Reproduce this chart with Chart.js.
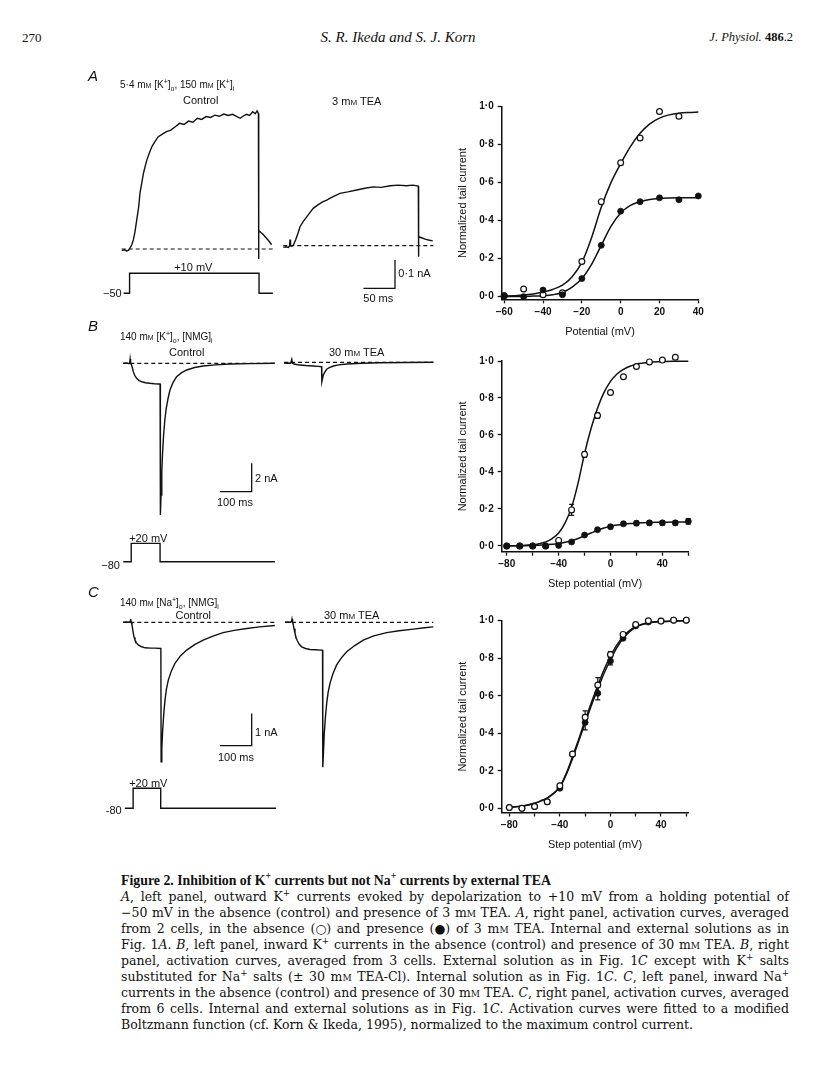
<!DOCTYPE html>
<html>
<head>
<meta charset="utf-8">
<title>Figure 2</title>
<script src="https://cdn.jsdelivr.net/npm/chart.js@4.4.1/dist/chart.umd.min.js"></script>
<style>
  body { margin: 0; background: #fff; }
  #page { position: relative; width: 816px; height: 1088px; overflow: hidden; color: #111;
          font-family: "Liberation Sans", Arial, sans-serif; }
  #page canvas { position: absolute; }
  .t { position: absolute; white-space: nowrap; line-height: 1; }
  .c { transform: translate(-50%, -50%); }
  .l { transform: translate(0, -50%); }
  .r { transform: translate(-100%, -50%); }
  .sc { font-variant: small-caps; }
  .lab { font-size: 11px; }
  .cond { font-size: 10px; }
  .panel { font-size: 15px; font-style: italic; }
  .serif { font-family: "Liberation Serif", "DejaVu Serif", serif; }
  .cap { font-family: "DejaVu Serif", serif; font-size: 12.5px; }
  sub, sup { font-size: 70%; line-height: 0; }
</style>
</head>
<body>
<div id="page">
  <!-- running head -->
  <div class="t l serif" style="left:22px;top:37px;font-size:13px">270</div>
  <div class="t c serif" style="left:398px;top:37px;font-size:15px;font-style:italic">S. R. Ikeda and S. J. Korn</div>
  <div class="t r serif" style="left:793px;top:37px;font-size:12.5px"><i>J. Physiol.</i> <b>486</b>.2</div>

  <canvas id="trA" width="360" height="250" style="left:80px;top:60px"></canvas>
  <canvas id="trB" width="360" height="270" style="left:80px;top:310px"></canvas>
  <canvas id="trC" width="360" height="270" style="left:80px;top:590px"></canvas>
  <canvas id="actA" width="280" height="255" style="left:440px;top:90px"></canvas>
  <canvas id="actB" width="280" height="250" style="left:440px;top:345px"></canvas>
  <canvas id="actC" width="280" height="260" style="left:440px;top:600px"></canvas>

  <!-- panel A labels -->
  <div class="t l panel" style="left:88px;top:75px">A</div>
  <div class="t l cond" style="left:120px;top:85px">5·4 m<span class="sc">m</span> [K<sup>+</sup>]<sub>o</sub>, 150 m<span class="sc">m</span> [K<sup>+</sup>]<sub>i</sub></div>
  <div class="t c lab" style="left:200.7px;top:100px">Control</div>
  <div class="t c lab" style="left:356.7px;top:100.7px">3 m<span class="sc">m</span> TEA</div>
  <div class="t c lab" style="left:193.3px;top:266.7px">+10 mV</div>
  <div class="t r lab" style="left:121.7px;top:293.3px">−50</div>
  <div class="t l lab" style="left:398.3px;top:273.3px">0·1 nA</div>
  <div class="t c lab" style="left:378.3px;top:298.3px">50 ms</div>

  <!-- panel B labels -->
  <div class="t l panel" style="left:88px;top:325px">B</div>
  <div class="t l cond" style="left:120px;top:336.7px">140 m<span class="sc">m</span> [K<sup>+</sup>]<sub>o</sub>, [NMG]<sub>i</sub></div>
  <div class="t c lab" style="left:186.7px;top:351.7px">Control</div>
  <div class="t c lab" style="left:356.7px;top:351.7px">30 m<span class="sc">m</span> TEA</div>
  <div class="t l lab" style="left:255px;top:478.3px">2 nA</div>
  <div class="t c lab" style="left:235px;top:501.7px">100 ms</div>
  <div class="t c lab" style="left:148.3px;top:538.3px">+20 mV</div>
  <div class="t r lab" style="left:120px;top:565px">−80</div>

  <!-- panel C labels -->
  <div class="t l panel" style="left:88px;top:591px">C</div>
  <div class="t l cond" style="left:120px;top:603.3px">140 m<span class="sc">m</span> [Na<sup>+</sup>]<sub>o</sub>, [NMG]<sub>i</sub></div>
  <div class="t c lab" style="left:193.3px;top:615px">Control</div>
  <div class="t c lab" style="left:351.7px;top:615px">30 m<span class="sc">m</span> TEA</div>
  <div class="t l lab" style="left:255px;top:731.7px">1 nA</div>
  <div class="t c lab" style="left:236px;top:756.7px">100 ms</div>
  <div class="t c lab" style="left:148.3px;top:783.3px">+20 mV</div>
  <div class="t r lab" style="left:121.7px;top:810px">-80</div>

  <!-- legend -->
  <div id="capTitle" class="t l serif" style="left:121px;top:881px;font-size:13px;font-weight:bold">Figure 2. Inhibition of K<sup>+</sup> currents but not Na<sup>+</sup> currents by external TEA</div>
  <div class="t l cap j" style="left:121px;top:897px"><i>A</i>, left panel, outward K<sup>+</sup> currents evoked by depolarization to +10 mV from a holding potential of</div>
  <div class="t l cap j" style="left:121px;top:913px">−50 mV in the absence (control) and presence of 3 m<span class="sc">m</span> TEA. <i>A</i>, right panel, activation curves, averaged</div>
  <div class="t l cap j" style="left:121px;top:929px">from 2 cells, in the absence (○) and presence (●) of 3 m<span class="sc">m</span> TEA. Internal and external solutions as in</div>
  <div class="t l cap j" style="left:121px;top:945px">Fig. 1<i>A</i>. <i>B</i>, left panel, inward K<sup>+</sup> currents in the absence (control) and presence of 30 m<span class="sc">m</span> TEA. <i>B</i>, right</div>
  <div class="t l cap j" style="left:121px;top:961px">panel, activation curves, averaged from 3 cells. External solution as in Fig. 1<i>C</i> except with K<sup>+</sup> salts</div>
  <div class="t l cap j" style="left:121px;top:977px">substituted for Na<sup>+</sup> salts (± 30 m<span class="sc">m</span> TEA-Cl). Internal solution as in Fig. 1<i>C</i>. <i>C</i>, left panel, inward Na<sup>+</sup></div>
  <div class="t l cap j" style="left:121px;top:993px">currents in the absence (control) and presence of 30 m<span class="sc">m</span> TEA. <i>C</i>, right panel, activation curves, averaged</div>
  <div class="t l cap j" style="left:121px;top:1009px">from 6 cells. Internal and external solutions as in Fig. 1<i>C</i>. Activation curves were fitted to a modified</div>
  <div id="capLast" class="t l cap" style="left:121px;top:1025px">Boltzmann function (cf. Korn &amp; Ikeda, 1995), normalized to the maximum control current.</div>
</div>

<script>
// ---- A, left: outward K currents (ms, nA) ----
const tCtrlA = [0, 4, 8, 11, 13, 16, 18.5, 21, 24, 27, 29, 32, 34.5, 37, 40, 44, 48, 53, 58, 64, 71, 78, 85, 92, 99, 106, 113, 120, 127, 134, 141, 148, 155, 162, 169, 176, 183, 188, 193, 198, 203, 208, 212, 215, 217, 217.3, 217.7, 221, 225, 229, 233, 238];
const iCtrlA = [-0.006, -0.003, -0.007, -0.004, 0.002, 0.015, 0.032, 0.06, 0.105, 0.15, 0.197, 0.235, 0.267, 0.29, 0.315, 0.34, 0.362, 0.38, 0.397, 0.405, 0.415, 0.42, 0.432, 0.444, 0.44, 0.452, 0.448, 0.462, 0.458, 0.468, 0.465, 0.473, 0.469, 0.477, 0.472, 0.476, 0.468, 0.462, 0.47, 0.476, 0.472, 0.485, 0.478, 0.488, 0.479, -0.035, 0.065, 0.058, 0.05, 0.04, 0.03, 0.015];
const tTeaA = [2.5, 7, 10.5, 12.5, 13.2, 14, 16, 18.5, 22, 26, 29, 34, 39.7, 45, 50, 58, 65, 71.4, 80, 92.5, 105, 119, 132, 145, 158, 172, 185, 198, 208, 216.8, 217.1, 217.5, 222, 227.5, 233, 239.7];
const iTeaA = [-0.006, -0.004, -0.006, 0.0, 0.022, 0.0, -0.002, 0.002, 0.02, 0.045, 0.067, 0.085, 0.102, 0.118, 0.132, 0.145, 0.155, 0.161, 0.172, 0.185, 0.19, 0.197, 0.203, 0.208, 0.206, 0.212, 0.214, 0.212, 0.214, 0.211, -0.039, 0.032, 0.028, 0.023, 0.02, 0.017];
const tStepA = [3, 12.5, 12.5, 218, 218, 240];
const vStepA = [-50, -50, 10, 10, -50, -50];
const baseCtrlA = [0, 240];
const baseTeaA = [2.5, 240.6];

// ---- B, left: inward K currents ----
const tCtrlB = [0, 10, 17, 20, 21.5, 23, 26, 29, 31.5, 36, 42, 50, 58, 70, 84, 98, 112.6, 116, 117, 119, 121.5, 124, 127, 131, 135, 141, 147, 156, 168, 184, 200, 225, 252, 290, 337, 400, 478];
const iCtrlB = [0, 0.02, -0.01, 0, 0.3, 0, -0.12, -0.35, -0.59, -0.85, -1.06, -1.22, -1.3, -1.37, -1.41, -1.44, -1.46, -1.46, -10.7, -9.3, -7.6, -6.3, -5.1, -4.0, -3.25, -2.5, -1.9, -1.4, -0.95, -0.66, -0.47, -0.3, -0.19, -0.11, -0.05, -0.02, 0];
const tTeaB = [-3, 5, 12, 18, 21.5, 23.5, 28.5, 40, 47.4, 65, 89.4, 105, 115.5, 116.3, 118.5, 121, 126, 131.6, 140, 152.5, 170, 194.7, 240, 300, 380, 468];
const iTeaB = [-0.05, -0.07, -0.05, -0.07, 0.21, -0.05, -0.12, -0.17, -0.19, -0.23, -0.26, -0.29, -0.31, -1.37, -1.15, -0.9, -0.68, -0.49, -0.38, -0.26, -0.18, -0.12, -0.07, -0.03, -0.01, 0];
const tStepB = [0, 25, 25, 116, 116, 478];
const vStepB = [-80, -80, 20, 20, -80, -80];
const baseCtrlB = [0, 478.5];
const baseTeaB = [-3, 468];

// ---- C, left: inward Na currents ----
const tCtrlC = [0, 10, 19, 22, 23.3, 25, 27.4, 29.5, 31.5, 34, 36.9, 41, 47.3, 56, 68.5, 85, 100, 118.5, 119.3, 121.5, 124.3, 127.5, 131.5, 136, 142, 151, 163, 180, 200, 225, 252, 285, 315, 350, 389, 430, 478];
const iCtrlC = [0, 0.01, 0, 0.04, 0.1, 0, -0.08, -0.2, -0.34, -0.46, -0.55, -0.63, -0.7, -0.75, -0.79, -0.8, -0.8, -0.81, -4.32, -3.9, -3.33, -2.85, -2.41, -2.07, -1.79, -1.52, -1.27, -1.04, -0.86, -0.69, -0.55, -0.42, -0.32, -0.25, -0.19, -0.14, -0.1];
const tTeaC = [0, 10, 18, 21, 22.2, 24, 26.3, 28.5, 31.6, 35, 38.9, 45, 52.8, 65, 79, 95, 114.6, 118.5, 119.3, 121.5, 124, 127.5, 131.6, 136, 142, 151, 163, 178, 194.7, 220, 247, 280, 321, 360, 404.8, 440, 468];
const iTeaC = [0, 0.01, 0, 0.04, 0.1, 0, -0.08, -0.2, -0.34, -0.47, -0.57, -0.68, -0.76, -0.81, -0.84, -0.85, -0.86, -0.86, -4.49, -4.0, -3.44, -2.95, -2.51, -2.18, -1.89, -1.6, -1.32, -1.1, -0.91, -0.72, -0.55, -0.42, -0.32, -0.26, -0.21, -0.17, -0.14];
const tStepC = [5, 31, 31, 118, 118, 482];
const vStepC = [-80, -80, 20, 20, -80, -80];
const baseCtrlC = [0, 478.5];
const baseTeaC = [0, 468];

// ---- right column: normalized tail current vs potential (mV) ----
const potA = [-60, -50, -40, -30, -20, -10, 0, 10, 20, 30];
const ctrlA = [0.005, 0.04, 0.01, 0.02, 0.185, 0.50, 0.705, 0.835, 0.975, 0.95];
const potTeaA = [-60, -50, -40, -30, -20, -10, 0, 10, 20, 30, 40];
const teaA = [0.005, 0.0, 0.035, 0.01, 0.095, 0.27, 0.45, 0.50, 0.52, 0.51, 0.53];
const fitPotA = [-61, -55, -50, -45, -40, -35, -30, -25, -20, -15, -10, -5, 0, 5, 10, 15, 20, 25, 30, 35, 40];
const fitCtrlA = [0.003, 0.005, 0.008, 0.014, 0.024, 0.038, 0.06, 0.105, 0.18, 0.31, 0.47, 0.6, 0.7, 0.79, 0.86, 0.91, 0.94, 0.957, 0.966, 0.97, 0.972];
const fitTeaA = [0, 0.001, 0.001, 0.003, 0.005, 0.01, 0.022, 0.05, 0.095, 0.17, 0.27, 0.37, 0.44, 0.48, 0.5, 0.512, 0.517, 0.519, 0.52, 0.52, 0.52];

const potB = [-80, -70, -60, -50, -40, -30, -20, -10, 0, 10, 20, 30, 40, 50];
const ctrlB = [0.0, 0.0, 0.0, 0.0, 0.03, 0.195, 0.495, 0.705, 0.83, 0.915, 0.97, 0.995, 1.005, 1.02];
const errCtrlB = [0, 0, 0, 0, 0, 0.03, 0.015, 0.015, 0.01, 0, 0, 0, 0, 0];
const potTeaB = [-80, -70, -60, -50, -40, -30, -20, -10, 0, 10, 20, 30, 40, 50, 60];
const teaB = [0.0, 0.0, 0.0, 0.0, 0.003, 0.022, 0.059, 0.088, 0.104, 0.12, 0.123, 0.125, 0.125, 0.125, 0.133];
const errTeaB = [0, 0, 0, 0, 0, 0, 0, 0, 0.01, 0.01, 0.012, 0.012, 0.012, 0.012, 0.015];
const fitPotB = [-80, -70, -60, -55, -50, -45, -40, -35, -30, -25, -20, -15, -10, -5, 0, 5, 10, 15, 20, 30, 40, 50, 60];
const fitCtrlB = [0.0, 0.002, 0.006, 0.012, 0.022, 0.04, 0.07, 0.125, 0.21, 0.34, 0.5, 0.635, 0.745, 0.83, 0.89, 0.93, 0.955, 0.972, 0.983, 0.993, 0.997, 0.998, 0.998];
const fitTeaB = [0.0, 0.001, 0.002, 0.004, 0.006, 0.009, 0.013, 0.02, 0.028, 0.04, 0.055, 0.07, 0.085, 0.097, 0.106, 0.113, 0.118, 0.121, 0.124, 0.127, 0.128, 0.129, 0.129];

const potC = [-80, -70, -60, -50, -40, -30, -20, -10, 0, 10, 20, 30, 40, 50, 60];
const ctrlC = [0.005, 0.0, 0.01, 0.035, 0.12, 0.29, 0.485, 0.657, 0.82, 0.927, 0.98, 1.0, 0.998, 1.003, 1.003];
const errCtrlC = [0, 0, 0, 0, 0, 0, 0.035, 0.04, 0.015, 0, 0, 0, 0, 0, 0];
const teaC = [0.005, 0.0, 0.01, 0.035, 0.107, 0.288, 0.458, 0.613, 0.785, 0.906, 0.972, 0.993, 0.998, 1.003, 1.003];
const errTeaC = [0, 0, 0, 0, 0, 0, 0.04, 0.035, 0.02, 0, 0, 0, 0, 0, 0];
const fitPotC = [-80, -75, -70, -65, -60, -55, -50, -45, -40, -35, -30, -25, -20, -15, -10, -5, 0, 5, 10, 15, 20, 25, 30, 40, 50, 60];
const fitCtrlC = [0.005, 0.008, 0.012, 0.018, 0.027, 0.04, 0.055, 0.08, 0.115, 0.185, 0.275, 0.37, 0.47, 0.565, 0.655, 0.74, 0.81, 0.87, 0.915, 0.947, 0.968, 0.981, 0.989, 0.996, 0.999, 1.0];
const fitTeaC = [0.005, 0.008, 0.012, 0.018, 0.027, 0.04, 0.055, 0.08, 0.113, 0.18, 0.265, 0.36, 0.455, 0.55, 0.635, 0.72, 0.79, 0.855, 0.905, 0.94, 0.964, 0.979, 0.988, 0.995, 0.998, 1.0];

// tick values
const yTicks = [0, 0.2, 0.4, 0.6, 0.8, 1.0];
const xTicksA = [-60, -40, -20, 0, 20, 40];
const xTicksBC = [-80, -60, -40, -20, 0, 20, 40, 60];
const xLabelsBC = [-80, -40, 0, 40];

const INK = '#111';
Chart.defaults.font.family = "'Liberation Sans', Arial, sans-serif";
Chart.defaults.color = INK;
Chart.defaults.animation = false;

const pts = (xs, ys) => xs.map((x, i) => ({x: x, y: ys[i]}));

// one canvas per trace panel; all scales hidden, set so the data lands at the printed size
function traceChart(id, p) {
  const xmin = -p.x0 / p.pxPerMs, xmax = (p.w - p.x0) / p.pxPerMs;
  const line = (data, extra) => Object.assign({data: data, showLine: true, pointRadius: 0,
    borderColor: INK, borderWidth: 1.4, tension: 0, xAxisID: 'x', yAxisID: 'y'}, extra);
  const b = p.bar;
  new Chart(document.getElementById(id), {
    type: 'scatter',
    data: {datasets: [
      line(pts(p.tCtrl, p.iCtrl)),
      line(pts(p.baseCtrl, [0, 0]), {borderDash: [4, 3], borderWidth: 1.2}),
      line(pts(p.tTea, p.iTea), {xAxisID: 'x2', yAxisID: 'y2'}),
      line(pts(p.baseTea, [0, 0]), {borderDash: [4, 3], borderWidth: 1.2, xAxisID: 'x2', yAxisID: 'y2'}),
      line(pts(p.tStep, p.vStep), {yAxisID: 'yv'}),
      line([{x: b.t - b.dt, y: b.i}, {x: b.t, y: b.i}, {x: b.t, y: b.i + b.di}], {borderWidth: 1.3})
    ]},
    options: {
      responsive: false, events: [],
      layout: {padding: 0},
      plugins: {legend: {display: false}, tooltip: {enabled: false}},
      scales: {
        x: {type: 'linear', display: false, min: xmin, max: xmax},
        x2: {type: 'linear', display: false, min: xmin - p.teaShift, max: xmax - p.teaShift},
        y: {type: 'linear', display: false, min: (p.y0 - p.h) / p.pxPerNA, max: p.y0 / p.pxPerNA},
        y2: {type: 'linear', display: false, min: (p.y0Tea - p.h) / p.pxPerNA, max: p.y0Tea / p.pxPerNA},
        yv: {type: 'linear', display: false, min: p.vHold + (p.vPx - p.h) / p.pxPerMv, max: p.vHold + p.vPx / p.pxPerMv}
      }
    }
  });
}

traceChart('trA', {w: 360, h: 250, x0: 41.7, pxPerMs: 0.63, teaShift: 254, y0: 189, y0Tea: 185.7, pxPerNA: 283,
  vHold: -50, vPx: 233.3, pxPerMv: 0.333, bar: {t: 433.8, i: -0.139, dt: 50, di: 0.1},
  tCtrl: tCtrlA, iCtrl: iCtrlA, tTea: tTeaA, iTea: iTeaA, tStep: tStepA, vStep: vStepA, baseCtrl: baseCtrlA, baseTea: baseTeaA});
traceChart('trB', {w: 360, h: 270, x0: 43.3, pxPerMs: 0.317, teaShift: 510, y0: 53.3, y0Tea: 52.3, pxPerNA: 14.17,
  vHold: -80, vPx: 251.7, pxPerMv: 0.183, bar: {t: 405, i: -9.06, dt: 100, di: 2},
  tCtrl: tCtrlB, iCtrl: iCtrlB, tTea: tTeaB, iTea: iTeaB, tStep: tStepB, vStep: vStepB, baseCtrl: baseCtrlB, baseTea: baseTeaB});
traceChart('trC', {w: 360, h: 270, x0: 43.3, pxPerMs: 0.317, teaShift: 510, y0: 32.3, y0Tea: 32.3, pxPerNA: 32.3,
  vHold: -80, vPx: 218.3, pxPerMv: 0.2, bar: {t: 405, i: -3.82, dt: 100, di: 1},
  tCtrl: tCtrlC, iCtrl: iCtrlC, tTea: tTeaC, iTea: iTeaC, tStep: tStepC, vStep: vStepC, baseCtrl: baseCtrlC, baseTea: baseTeaC});

// error bars drawn under the symbols
const errorBars = {
  id: 'errorBars',
  beforeDatasetsDraw(chart) {
    const ctx = chart.ctx;
    chart.data.datasets.forEach((ds, i) => {
      if (!ds.errors) return;
      const meta = chart.getDatasetMeta(i);
      const xs = chart.scales[meta.xAxisID], ys = chart.scales[meta.yAxisID];
      ctx.save();
      ctx.strokeStyle = INK;
      ctx.lineWidth = 1.2;
      ds.data.forEach((pt, j) => {
        const e = ds.errors[j];
        if (!e) return;
        const px = xs.getPixelForValue(pt.x);
        const top = ys.getPixelForValue(pt.y + e), bot = ys.getPixelForValue(pt.y - e);
        ctx.beginPath();
        ctx.moveTo(px, top); ctx.lineTo(px, bot);
        ctx.moveTo(px - 2.5, top); ctx.lineTo(px + 2.5, top);
        ctx.moveTo(px - 2.5, bot); ctx.lineTo(px + 2.5, bot);
        ctx.stroke();
      });
      ctx.restore();
    });
  }
};

const fmtX = v => (v < 0 ? '\u2212' + Math.abs(v) : String(v));
const fmtY = v => v.toFixed(1).replace('.', '\u00b7');

// p: page-pixel frame of the plot area plus canvas top/height
function activationChart(id, p) {
  const canvasLeft = 440, canvasRight = 720, padLeft = 0;
  const cBottom = p.cTop + p.cH;
  const open = {data: pts(p.potCtrl, p.ctrl), errors: p.errCtrl, pointRadius: 2.9, pointBorderWidth: 1.2,
    pointBackgroundColor: '#fff', pointBorderColor: INK, showLine: false, clip: false};
  const filled = {data: pts(p.potTea, p.tea), errors: p.errTea, pointRadius: 3, pointBorderWidth: 0.8,
    pointBackgroundColor: INK, pointBorderColor: INK, showLine: false, clip: false};
  const curve = (ys) => ({data: pts(p.fitPot, ys), showLine: true, pointRadius: 0, borderColor: INK,
    borderWidth: 1.5, cubicInterpolationMode: 'monotone', clip: false});
  const labelled = p.xLabels || p.xTicks;
  new Chart(document.getElementById(id), {
    type: 'scatter',
    data: {datasets: p.openOnTop
      ? [open, filled, curve(p.fitCtrl), curve(p.fitTea)]
      : [filled, open, curve(p.fitCtrl), curve(p.fitTea)]},
    options: {
      responsive: false, events: [],
      layout: {padding: {left: padLeft, top: p.top - p.cTop, right: canvasRight - p.right, bottom: 0}},
      plugins: {legend: {display: false}, tooltip: {enabled: false}},
      scales: {
        x: {
          type: 'linear', min: p.xMin, max: p.xMax,
          afterBuildTicks: s => { s.ticks = p.xTicks.map(v => ({value: v})); },
          afterFit: s => { s.height = cBottom - p.bottom; },
          grid: {drawOnChartArea: false, drawTicks: true, tickLength: 4, tickWidth: 1.3, tickColor: INK},
          border: {display: true, color: INK, width: 1.5},
          ticks: {autoSkip: false, maxRotation: 0, padding: 3, color: INK, font: {size: 10, weight: 'bold'},
            callback: v => (labelled.includes(v) ? fmtX(v) : '')},
          title: {display: true, text: p.xTitle, color: INK, font: {size: 11},
            padding: {top: 0, bottom: cBottom - p.titleY - 6.6}}
        },
        y: {
          type: 'linear', min: p.yMin, max: 1.0,
          afterBuildTicks: s => { s.ticks = yTicks.map(v => ({value: v})); },
          afterFit: s => { s.width = p.left - canvasLeft - padLeft; },
          grid: {drawOnChartArea: false, drawTicks: true, tickLength: 4, tickWidth: 1.3, tickColor: INK},
          border: {display: true, color: INK, width: 1.5},
          ticks: {padding: 4, color: INK, font: {size: 10, weight: 'bold'}, callback: v => fmtY(v)},
          title: {display: true, text: 'Normalized tail current', color: INK, font: {size: 11},
            padding: {top: 16.7, bottom: 0}}
        }
      }
    },
    plugins: [errorBars]
  });
}

activationChart('actA', {cTop: 90, cH: 255, left: 501.7, right: 698.3, top: 106.7, bottom: 299.3,
  xMin: -61.3, xMax: 40, yMin: -0.014, titleY: 331.7, xTitle: 'Potential (mV)', xTicks: xTicksA,
  potCtrl: potA, ctrl: ctrlA, potTea: potTeaA, tea: teaA, fitPot: fitPotA, fitCtrl: fitCtrlA, fitTea: fitTeaA});
activationChart('actB', {cTop: 345, cH: 250, left: 501.7, right: 688.3, top: 361, bottom: 551.7,
  xMin: -83.9, xMax: 60, yMin: -0.031, titleY: 584, xTitle: 'Step potential (mV)', xTicks: xTicksBC, xLabels: xLabelsBC,
  potCtrl: potB, ctrl: ctrlB, errCtrl: errCtrlB, potTea: potTeaB, tea: teaB, errTea: errTeaB,
  fitPot: fitPotB, fitCtrl: fitCtrlB, fitTea: fitTeaB});
activationChart('actC', {cTop: 600, cH: 260, left: 501.7, right: 688.3, top: 620.7, bottom: 812.5,
  xMin: -86, xMax: 61.6, yMin: -0.022, titleY: 845, xTitle: 'Step potential (mV)', xTicks: xTicksBC, xLabels: xLabelsBC,
  openOnTop: true, potCtrl: potC, ctrl: ctrlC, errCtrl: errCtrlC, potTea: potC, tea: teaC, errTea: errTeaC,
  fitPot: fitPotC, fitCtrl: fitCtrlC, fitTea: fitTeaC});

// legend: title and last line sized to their printed widths, body lines justified to the text block
function fitWidth(el, target) {
  const size = parseFloat(getComputedStyle(el).fontSize);
  el.style.fontSize = (size * target / el.getBoundingClientRect().width) + 'px';
}
fitWidth(document.getElementById('capTitle'), 430);
document.querySelectorAll('.j').forEach(el => {
  const spaces = (el.textContent.match(/ /g) || []).length;
  const w = el.getBoundingClientRect().width;
  el.style.wordSpacing = ((668 - w) / spaces) + 'px';
});
</script>
</body>
</html>
